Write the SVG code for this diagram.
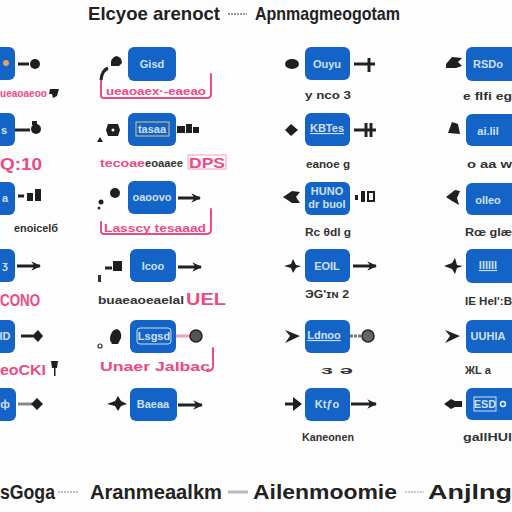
<svg xmlns="http://www.w3.org/2000/svg" width="512" height="512" viewBox="0 0 512 512">
<defs>
<style>
.box{fill:#1463c6}
.bt{font-family:"Liberation Sans",Arial,sans-serif;font-size:11px;font-weight:bold;fill:#cfe0f6;text-anchor:middle}
.ttl{font-family:"Liberation Sans",Arial,sans-serif;font-weight:bold;fill:#222}
.pk{font-family:"Liberation Sans",Arial,sans-serif;font-weight:bold;fill:#ec4a86}
.dk{font-family:"Liberation Sans",Arial,sans-serif;font-weight:bold;fill:#333;font-size:11px}
.br{fill:none;stroke:#ec4a86;stroke-width:2;stroke-linecap:round}
.ln{stroke:#222;stroke-width:3;fill:none}
.bl{fill:#1f1f1f}
</style>
<marker id="ah" viewBox="0 0 10 10" refX="9" refY="5" markerWidth="3.2" markerHeight="3.2" orient="auto"><path d="M0,0 L10,5 L0,10 L3,5 z" fill="#222"/></marker>
</defs>
<rect width="512" height="512" fill="#fdfdfd"/>

<g id="title">
<text class="ttl" x="88" y="20" font-size="19" textLength="132" lengthAdjust="spacingAndGlyphs">Elcyoe arenoct</text>
<line x1="228" y1="14" x2="247" y2="14" stroke="#999" stroke-width="2" stroke-dasharray="2 1"/>
<text class="ttl" x="255" y="20" font-size="19" textLength="145" lengthAdjust="spacingAndGlyphs">Apnmagmeogotam</text>
</g>

<g id="col0">
<g id="n0r1"><rect class="box" x="-10" y="47" width="25" height="33" rx="6"/><circle cx="6" cy="63" r="3" fill="#e8a060"/></g>
<g id="n0r2"><rect class="box" x="-10" y="113" width="25" height="33" rx="6"/><text class="bt" x="4" y="134">s</text></g>
<g id="n0r3"><rect class="box" x="-10" y="182" width="25" height="33" rx="6"/><text class="bt" x="5" y="202">a</text></g>
<g id="n0r4"><rect class="box" x="-10" y="249" width="25" height="33" rx="6"/><text class="bt" x="5" y="269">&#x0292;</text></g>
<g id="n0r5"><rect class="box" x="-10" y="320" width="25" height="33" rx="6"/><text class="bt" x="5" y="340" font-size="9">ID</text></g>
<g id="n0r6"><rect class="box" x="-10" y="388" width="26" height="33" rx="6"/><text class="bt" x="5" y="408">&#x0444;</text></g>
<text class="pk" x="0" y="97" font-size="11" textLength="47" lengthAdjust="spacingAndGlyphs">ueaoaeoo</text>
<path class="bl" d="M50,89 L59,89 L57,96 L53,98 L52,94 L49,94 z"/>
<text class="pk" x="0" y="170" font-size="17" textLength="42" lengthAdjust="spacingAndGlyphs">Q:10</text>
<text class="dk" x="14" y="232" textLength="44" lengthAdjust="spacingAndGlyphs">enoicel&#x0431;</text>
<text class="pk" x="0" y="306" font-size="16" textLength="40" lengthAdjust="spacingAndGlyphs">CONO</text>
<text class="pk" x="0" y="375" font-size="14" textLength="46" lengthAdjust="spacingAndGlyphs">eoCKI</text>
<path class="bl" d="M51,361 L58,361 L57,368 L55.5,368 L55.5,376 L54,376 L54,368 L52,368 z"/>
</g>

<g id="col1">
<g id="n1r1"><rect class="box" x="128" y="47" width="48" height="34" rx="6"/><text class="bt" x="152" y="68">Gisd</text></g>
<g id="n1r2"><rect class="box" x="128" y="113" width="48" height="33" rx="6"/><rect x="136" y="122" width="33" height="14" fill="none" stroke="#e0c870" stroke-width="1"/><text class="bt" x="152" y="133" font-size="10">tasaa</text></g>
<g id="n1r3"><rect class="box" x="128" y="181" width="48" height="33" rx="6"/><text class="bt" x="152" y="201" font-size="9">oaoovo</text></g>
<g id="n1r4"><rect class="box" x="130" y="249" width="46" height="33" rx="6"/><text class="bt" x="153" y="270" font-size="12">lcoo</text></g>
<g id="n1r5"><rect class="box" x="130" y="320" width="46" height="33" rx="6"/><rect x="137" y="328" width="34" height="16" rx="3" fill="none" stroke="#cfe0f6" stroke-width="1"/><text class="bt" x="154" y="340" font-size="10">Lsgsd</text></g>
<g id="n1r6"><rect class="box" x="130" y="388" width="47" height="33" rx="6"/><text class="bt" x="153" y="408" font-size="10">Baeaa</text></g>
<path class="br" d="M107,70 Q101,72 101,82 L101,96 Q101,98 104,98 L207,98 Q211,98 211,94 L211,74"/>
<text class="pk" x="106" y="95" font-size="10" textLength="100" lengthAdjust="spacingAndGlyphs">ueaoaex&#x00B7;-eaeao</text>
<text class="pk" x="100" y="167" font-size="11" textLength="45" lengthAdjust="spacingAndGlyphs">tecoae</text>
<text class="dk" x="145" y="167" font-size="10" fill="#555" textLength="38" lengthAdjust="spacingAndGlyphs">eoaaee</text>
<rect x="188" y="155" width="38" height="14" fill="none" stroke="#f2a0c0" stroke-width="1"/>
<text class="pk" x="189" y="168" font-size="14" fill="#f07aa6" textLength="36" lengthAdjust="spacingAndGlyphs">DPS</text>
<path class="br" d="M211,209 L211,230 Q211,234 206,234 L104,234 Q101,234 101,231 L101,222"/>
<text class="pk" x="104" y="232" font-size="11" textLength="102" lengthAdjust="spacingAndGlyphs">Lasscy tesaaad</text>
<text class="dk" x="98" y="304" font-size="11" textLength="86" lengthAdjust="spacingAndGlyphs">buaeaoeaelal</text>
<text class="pk" x="186" y="305" font-size="16" textLength="40" lengthAdjust="spacingAndGlyphs">UEL</text>
<path class="br" d="M213,348 L213,366 Q213,371 207,371"/>
<text class="pk" x="100" y="371" font-size="12" textLength="110" lengthAdjust="spacingAndGlyphs">Unaer Jalbac</text>
</g>

<g id="col2">
<g id="n2r1"><rect class="box" x="305" y="47" width="45" height="33" rx="6"/><text class="bt" x="327" y="68" font-size="10">Ouyu</text></g>
<g id="n2r2"><rect class="box" x="305" y="113" width="45" height="33" rx="6"/><text class="bt" x="327" y="132" font-size="10" text-decoration="underline">KBTes</text></g>
<g id="n2r3"><rect class="box" x="305" y="182" width="45" height="33" rx="6"/><text class="bt" x="327" y="195" font-size="7">HUNO</text><text class="bt" x="327" y="208" font-size="7">dr buol</text></g>
<g id="n2r4"><rect class="box" x="305" y="249" width="45" height="33" rx="6"/><text class="bt" x="327" y="270" font-size="12">EOIL</text></g>
<g id="n2r5"><rect class="box" x="305" y="320" width="45" height="33" rx="6"/><text class="bt" x="324" y="339" font-size="10" text-decoration="underline">Ldnoo</text></g>
<g id="n2r6"><rect class="box" x="305" y="388" width="45" height="33" rx="6"/><text class="bt" x="327" y="408" font-size="11">Kt&#x0192;o</text></g>
<text class="dk" x="305" y="99" textLength="46" lengthAdjust="spacingAndGlyphs">y nco 3</text>
<text class="dk" x="306" y="168" textLength="44" lengthAdjust="spacingAndGlyphs">eanoe g</text>
<text class="dk" x="305" y="236" fill="#444" textLength="46" lengthAdjust="spacingAndGlyphs">Rc &#x03B8;dl g</text>
<text class="dk" x="305" y="298" textLength="44" lengthAdjust="spacingAndGlyphs">ЭG'ɪɴ 2</text>
<text class="dk" x="321" y="374" textLength="32" lengthAdjust="spacingAndGlyphs">&#x0437;  &#x0259;</text>
<text class="dk" x="302" y="441" textLength="52" lengthAdjust="spacingAndGlyphs">Kaneonen</text>
</g>

<g id="col3">
<g id="n3r1"><rect class="box" x="466" y="47" width="56" height="34" rx="6"/><text class="bt" x="488" y="68">RSDo</text></g>
<g id="n3r2"><rect class="box" x="466" y="114" width="56" height="32" rx="6"/><text class="bt" x="488" y="135" font-size="10">ai.lil</text></g>
<g id="n3r3"><rect class="box" x="466" y="183" width="56" height="32" rx="6"/><text class="bt" x="488" y="204" font-size="12">olleo</text></g>
<g id="n3r4"><rect class="box" x="466" y="249" width="56" height="34" rx="6"/><text class="bt" x="488" y="269" font-size="10" text-decoration="underline">llllll</text></g>
<g id="n3r5"><rect class="box" x="466" y="320" width="56" height="33" rx="6"/><text class="bt" x="488" y="340" font-size="10">UUHlA</text></g>
<g id="n3r6"><rect class="box" x="466" y="388" width="56" height="32" rx="6"/><rect x="474" y="397" width="22" height="14" fill="none" stroke="#cfe0f6" stroke-width="1"/><text class="bt" x="485" y="408" font-size="9">ESD</text><circle cx="503" cy="404" r="2.5" fill="none" stroke="#e6eef8" stroke-width="1.5"/></g>
<text class="dk" x="463" y="100" textLength="49" lengthAdjust="spacingAndGlyphs">e flfi e&#x0261;</text>
<text class="dk" x="467" y="168" textLength="45" lengthAdjust="spacingAndGlyphs">o aa w</text>
<text class="dk" x="465" y="236" fill="#444" textLength="47" lengthAdjust="spacingAndGlyphs">R&#x0153; gl&#x00E6;</text>
<text class="dk" x="465" y="305" textLength="47" lengthAdjust="spacingAndGlyphs">IE HeI':B</text>
<text class="dk" x="465" y="374" textLength="26" lengthAdjust="spacingAndGlyphs">&#x0416;L  a</text>
<text class="dk" x="463" y="441" textLength="49" lengthAdjust="spacingAndGlyphs">gallHUl</text>
</g>

<g id="connectors">
<!-- row 1 -->
<line class="ln" x1="18" y1="64" x2="29" y2="64"/><circle class="bl" cx="35" cy="64" r="5"/>
<path class="bl" d="M111,66 Q110,58 116,56 Q122,57 122,63 L119,66 z"/><path class="ln" d="M108,68 Q102,70 101,80" stroke-width="2"/>
<ellipse class="bl" cx="292" cy="64" rx="7" ry="5"/>
<line class="ln" x1="354" y1="64" x2="375" y2="64"/><line class="ln" x1="369" y1="58" x2="369" y2="72"/>
<path class="bl" d="M446,64 L452,57 L462,58 L458,62 L462,66 L456,68 L446,68 z"/>
<!-- row 2 -->
<line class="ln" x1="15" y1="130" x2="30" y2="130" stroke-width="2"/><circle class="bl" cx="36" cy="129" r="5"/><rect class="bl" x="32" y="121" width="5" height="4"/>
<path class="bl" d="M108,124 L118,124 L120,130 L118,136 L108,136 L106,130 z"/><circle cx="113" cy="130" r="1.5" fill="#fff"/>
<path class="bl" d="M97,142 L100,137 L103,142 z"/>
<rect class="bl" x="177" y="126" width="8" height="7"/><rect class="bl" x="186" y="124" width="6" height="9"/><rect class="bl" x="193" y="127" width="6" height="6"/>
<path class="bl" d="M285,130 L291,124 L298,130 L291,136 z"/>
<line class="ln" x1="354" y1="130" x2="376" y2="130"/><line class="ln" x1="366" y1="123" x2="366" y2="137" stroke-width="2.5"/><line class="ln" x1="371" y1="123" x2="371" y2="137" stroke-width="2.5"/>
<path class="bl" d="M448,133 L452,122 L458,124 L460,134 z"/>
<!-- row 3 -->
<line class="ln" x1="18" y1="196" x2="24" y2="196" stroke-width="2"/><rect class="bl" x="27" y="193" width="6" height="8"/><rect class="bl" x="35" y="189" width="6" height="12"/>
<circle class="bl" cx="115" cy="193" r="5"/><circle class="bl" cx="101" cy="202" r="2.5"/><circle cx="99" cy="208" r="1.5" fill="#333"/>
<line class="ln" x1="178" y1="198" x2="200" y2="198" marker-end="url(#ah)"/>
<path class="bl" d="M283,197 L292,191 L300,192 L296,197 L300,203 L292,203 z"/>
<rect class="bl" x="355" y="195" width="3" height="5"/><rect class="bl" x="361" y="191" width="4" height="11"/><rect class="bl" x="367" y="191" width="8" height="11"/><rect x="369" y="193" width="4" height="7" fill="#fdfdfd"/>
<path class="bl" d="M446,197 L455,190 L460,191 L457,198 L459,205 L452,201 z"/>
<!-- row 4 -->
<line class="ln" x1="17" y1="266" x2="40" y2="266" marker-end="url(#ah)"/>
<line class="ln" x1="105" y1="268" x2="112" y2="268" stroke-width="2"/><rect class="bl" x="113" y="261" width="9" height="10"/><rect x="98" y="275" width="3" height="7" fill="#333"/>
<line class="ln" x1="178" y1="267" x2="201" y2="267" marker-end="url(#ah)"/>
<path class="bl" d="M284,266 L291,264 L293,259 L296,265 L301,266 L296,268 L293,273 L291,268 z"/>
<line class="ln" x1="353" y1="266" x2="376" y2="266" marker-end="url(#ah)"/>
<path class="bl" d="M444,266 L452,263 L455,258 L457,265 L463,266 L457,268 L455,274 L452,269 z"/>
<!-- row 5 -->
<line class="ln" x1="21" y1="336" x2="33" y2="336"/><path class="bl" d="M32,336 L38,330 L43,336 L38,342 z"/>
<path class="bl" d="M110,340 Q110,330 117,329 Q122,331 121,338 L118,344 L112,344 z"/><circle cx="100" cy="346" r="2" fill="none" stroke="#333" stroke-width="1.2"/>
<line x1="176" y1="336" x2="191" y2="336" stroke="#f0a0b8" stroke-width="3"/><circle cx="196" cy="336" r="6" fill="#555" stroke="#222" stroke-width="1.5"/>
<path class="bl" d="M285,330 L300,336 L285,343 L290,336 z"/>
<line x1="350" y1="336" x2="362" y2="336" stroke="#777" stroke-width="3" stroke-dasharray="3 1"/><circle cx="368" cy="336" r="6" fill="#666" stroke="#222" stroke-width="1.5"/>
<path class="bl" d="M445,330 L460,336 L445,343 L450,336 z"/>
<!-- row 6 -->
<line x1="18" y1="404" x2="32" y2="404" stroke="#888" stroke-width="3"/><path class="bl" d="M31,404 L37,398 L43,404 L37,410 z"/>
<path class="bl" d="M107,404 L115,401 L118,396 L121,401 L127,404 L121,406 L118,411 L115,406 z"/>
<line class="ln" x1="178" y1="405" x2="202" y2="405" marker-end="url(#ah)"/>
<line class="ln" x1="285" y1="404" x2="296" y2="404"/><path class="bl" d="M293,397 L302,404 L293,411 z"/>
<line class="ln" x1="351" y1="404" x2="376" y2="404" marker-end="url(#ah)"/>
<path class="bl" d="M444,404 L451,399 L455,401 L462,401 L462,407 L455,407 L451,409 z"/>
</g>

<g id="footer">
<text class="ttl" x="0" y="499" font-size="21" textLength="55" lengthAdjust="spacingAndGlyphs">sGoga</text>
<line x1="58" y1="492" x2="78" y2="492" stroke="#aaa" stroke-width="1.5" stroke-dasharray="2 1"/>
<text class="ttl" x="90" y="499" font-size="21" textLength="132" lengthAdjust="spacingAndGlyphs">Aranmeaalkm</text>
<line x1="228" y1="492" x2="248" y2="492" stroke="#bbb" stroke-width="3"/>
<text class="ttl" x="253" y="499" font-size="21" textLength="144" lengthAdjust="spacingAndGlyphs">Ailenmoomie</text>
<line x1="405" y1="492" x2="424" y2="492" stroke="#bbb" stroke-width="1.5" stroke-dasharray="2 1"/>
<text class="ttl" x="428" y="499" font-size="21" textLength="84" lengthAdjust="spacingAndGlyphs">Anjlng</text>
</g>
</svg>
